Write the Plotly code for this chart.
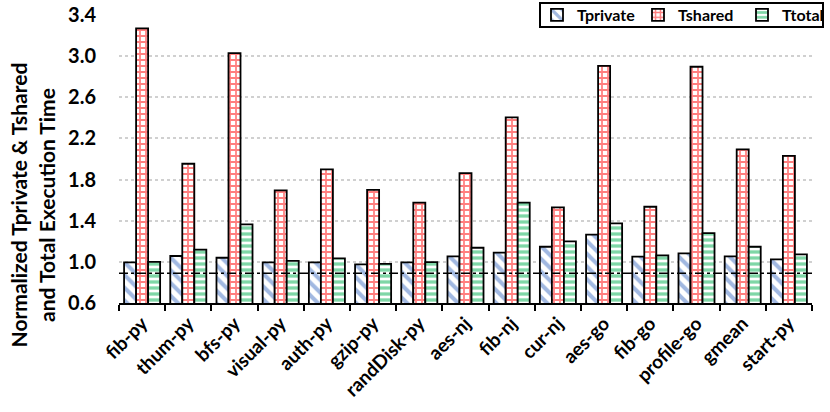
import plotly.graph_objects as go

categories = ["fib-py", "thum-py", "bfs-py", "visual-py", "auth-py", "gzip-py",
              "randDisk-py", "aes-nj", "fib-nj", "cur-nj", "aes-go", "fib-go",
              "profile-go", "gmean", "start-py"]
t_private = [0.995, 1.057, 1.04, 0.995, 0.995, 0.976, 0.995, 1.054, 1.09, 1.147,
             1.264, 1.05, 1.083, 1.054, 1.025]
t_shared = [3.27, 1.954, 3.03, 1.695, 1.90, 1.70, 1.575, 1.863, 2.405, 1.53,
            2.906, 1.536, 2.897, 2.094, 2.03]
t_total = [1.0, 1.118, 1.365, 1.01, 1.034, 0.98, 0.998, 1.137, 1.575, 1.20,
           1.375, 1.063, 1.28, 1.147, 1.073]
ref_line = 0.89
y_ticks = [0.6, 1.0, 1.4, 1.8, 2.2, 2.6, 3.0, 3.4]
y_title = "Normalized Tprivate & Tshared<br>and Total Execution Time"

FONT = "Lato"
W, H = 830, 412
ML, MR, MT, MB = 119, 18, 15, 109
PW, PH = W - ML - MR, H - MT - MB


def px_x(p):
    return (p - ML) / PW


def px_y(p):
    return (H - MB - p) / PH


fig = go.Figure()
fig.add_trace(go.Bar(
    name="Tprivate", x=categories, y=t_private, legend="legend", showlegend=True,
    marker=dict(color="white", line=dict(color="black", width=1.8),
                pattern=dict(shape="\\", fgcolor="#4472C4", bgcolor="white",
                             size=9, solidity=0.45, fillmode="overlay")),
))
fig.add_trace(go.Bar(
    name="Tshared", x=categories, y=t_shared, legend="legend2", showlegend=True,
    marker=dict(color="white", line=dict(color="black", width=1.8),
                pattern=dict(shape="+", fgcolor="#FF0000", bgcolor="white",
                             size=6, solidity=0.5, fillmode="overlay")),
))
fig.add_trace(go.Bar(
    name="Ttotal", x=categories, y=t_total, legend="legend3", showlegend=True,
    marker=dict(color="white", line=dict(color="black", width=1.8),
                pattern=dict(shape="-", fgcolor="#00B050", bgcolor="white",
                             size=6, solidity=0.55, fillmode="overlay")),
))

fig.add_shape(type="line", xref="paper", x0=0, x1=1, yref="y", y0=ref_line, y1=ref_line,
              line=dict(color="black", width=1.5, dash="dashdot"))

# white backing and frame of the legend
fig.add_shape(type="rect", xref="paper", yref="paper",
              x0=px_x(540), x1=px_x(823), y0=px_y(27), y1=px_y(3),
              line=dict(color="black", width=2), fillcolor="white", layer="above")

fig.add_annotation(text=y_title, xref="paper", yref="paper", x=-0.125, y=0.34,
                   xanchor="center", yanchor="middle", textangle=-90, showarrow=False,
                   font=dict(family=FONT, size=21, weight="bold", color="black"))

leg_common = dict(orientation="h", xanchor="left", yanchor="middle", y=px_y(15),
                  bgcolor="rgba(0,0,0,0)", borderwidth=0, itemwidth=30, visible=True,
                  font=dict(family=FONT, size=16, weight="bold", color="black"))

fig.update_layout(
    width=W, height=H, showlegend=True,
    margin=dict(l=ML, r=MR, t=MT, b=MB, autoexpand=False),
    paper_bgcolor="white", plot_bgcolor="white",
    barmode="group", bargap=0.22, bargroupgap=0,
    font=dict(family=FONT, size=18, color="black", weight="bold"),
    legend=dict(x=px_x(537), **leg_common),
    legend2=dict(x=px_x(638), **leg_common),
    legend3=dict(x=px_x(742), **leg_common),
    xaxis=dict(type="category", showline=True, linecolor="black", linewidth=2,
               ticks="outside", tickson="boundaries", ticklen=6, tickwidth=2,
               tickcolor="black", tickangle=-45, automargin=False,
               tickfont=dict(family=FONT, size=19, weight="bold")),
    yaxis=dict(range=[0.6, 3.4], tickvals=y_ticks, ticktext=[f"{v:.1f}" for v in y_ticks],
               showgrid=True, gridcolor="#D0D0D0", gridwidth=2, griddash="dot",
               showline=False, zeroline=False, ticks="outside", ticklen=18,
               tickcolor="rgba(0,0,0,0)", automargin=False,
               tickfont=dict(family=FONT, size=20, weight="bold")),
)

fig.write_html("out.html", config={"displayModeBar": False},
               post_script="document.body.style.margin='0';document.body.style.overflow='hidden';")
